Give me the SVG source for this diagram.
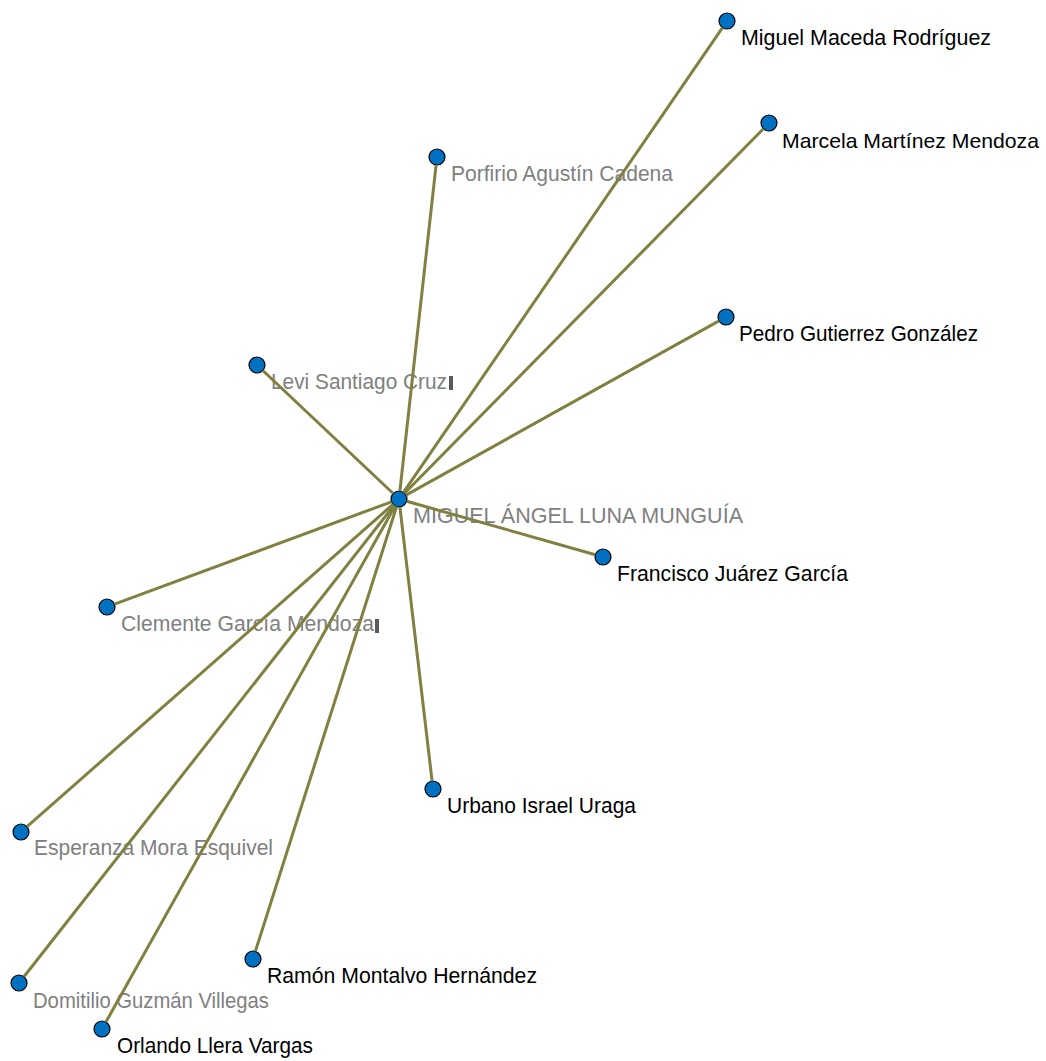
<svg xmlns="http://www.w3.org/2000/svg" width="1046" height="1061" viewBox="0 0 1046 1061">
<style>
.bg{fill:#ffffff}
.node circle{fill:#0070c0;stroke:#000000;stroke-width:1.2}
.lbl{font-family:"Liberation Sans",Arial,sans-serif;font-size:22.5px}
.blk{fill:#000000}
.gry{fill:#808080}
.bar{fill:#5a5a5a}
#connectors line{stroke:#808040;stroke-width:3;stroke-linecap:butt}
</style>
<rect class="bg" x="0" y="0" width="1046" height="1061"/>
<g id="n-center" class="node"><text class="lbl gry" x="413" y="523" textLength="330" lengthAdjust="spacingAndGlyphs">MIGUEL ÁNGEL LUNA MUNGUÍA</text><circle cx="399" cy="499" r="8"/></g>
<g id="n-miguel-maceda" class="node"><text class="lbl blk" x="741" y="45" textLength="250" lengthAdjust="spacingAndGlyphs">Miguel Maceda Rodríguez</text><circle cx="727" cy="21" r="8"/></g>
<g id="n-marcela" class="node"><text class="lbl blk" x="782" y="148" style="font-size:21px" textLength="257" lengthAdjust="spacingAndGlyphs">Marcela Martínez Mendoza</text><circle cx="769" cy="123" r="8"/></g>
<g id="n-porfirio" class="node"><text class="lbl gry" x="451" y="181" textLength="222" lengthAdjust="spacingAndGlyphs">Porfirio Agustín Cadena</text><circle cx="437" cy="157" r="8"/></g>
<g id="n-pedro" class="node"><text class="lbl blk" x="739" y="341" textLength="239" lengthAdjust="spacingAndGlyphs">Pedro Gutierrez González</text><circle cx="726" cy="317" r="8"/></g>
<g id="n-levi" class="node"><text class="lbl gry" x="271" y="389" textLength="176" lengthAdjust="spacingAndGlyphs">Levi Santiago Cruz</text><rect class="bar" x="449" y="376" width="4" height="14"/><circle cx="257" cy="365" r="8"/></g>
<g id="n-francisco" class="node"><text class="lbl blk" x="617" y="581" textLength="231" lengthAdjust="spacingAndGlyphs">Francisco Juárez García</text><circle cx="603" cy="557" r="8"/></g>
<g id="n-clemente" class="node"><text class="lbl gry" x="121" y="631" textLength="253" lengthAdjust="spacingAndGlyphs">Clemente García Mendoza</text><rect class="bar" x="375" y="619" width="4" height="14"/><circle cx="107" cy="607" r="8"/></g>
<g id="n-urbano" class="node"><text class="lbl blk" x="447" y="813" textLength="189" lengthAdjust="spacingAndGlyphs">Urbano Israel Uraga</text><circle cx="433" cy="789" r="8"/></g>
<g id="n-esperanza" class="node"><text class="lbl gry" x="34" y="855" textLength="239" lengthAdjust="spacingAndGlyphs">Esperanza Mora Esquivel</text><circle cx="21" cy="832" r="8"/></g>
<g id="n-ramon" class="node"><text class="lbl blk" x="267" y="983" textLength="270" lengthAdjust="spacingAndGlyphs">Ramón Montalvo Hernández</text><circle cx="253" cy="959" r="8"/></g>
<g id="n-domitilio" class="node"><text class="lbl gry" x="33" y="1008" textLength="236" lengthAdjust="spacingAndGlyphs">Domitilio Guzmán Villegas</text><circle cx="19" cy="983" r="8"/></g>
<g id="n-orlando" class="node"><text class="lbl blk" x="117" y="1053" textLength="196" lengthAdjust="spacingAndGlyphs">Orlando Llera Vargas</text><circle cx="102" cy="1029" r="8"/></g>
<g id="connectors">
<line x1="403.5" y1="492.4" x2="722.5" y2="27.6"/>
<line x1="404.6" y1="493.3" x2="763.4" y2="128.7"/>
<line x1="399.9" y1="491.0" x2="436.1" y2="165.0"/>
<line x1="406.0" y1="495.1" x2="719.0" y2="320.9"/>
<line x1="393.2" y1="493.5" x2="262.8" y2="370.5"/>
<line x1="406.7" y1="501.2" x2="595.3" y2="554.8"/>
<line x1="391.5" y1="501.8" x2="114.5" y2="604.2"/>
<line x1="399.9" y1="507.0" x2="432.1" y2="781.1"/>
<line x1="393.0" y1="504.3" x2="27.0" y2="826.7"/>
<line x1="396.6" y1="506.6" x2="255.4" y2="951.4"/>
<line x1="394.1" y1="505.3" x2="23.9" y2="976.7"/>
<line x1="395.1" y1="506.0" x2="105.9" y2="1022.0"/>
</g>
</svg>
